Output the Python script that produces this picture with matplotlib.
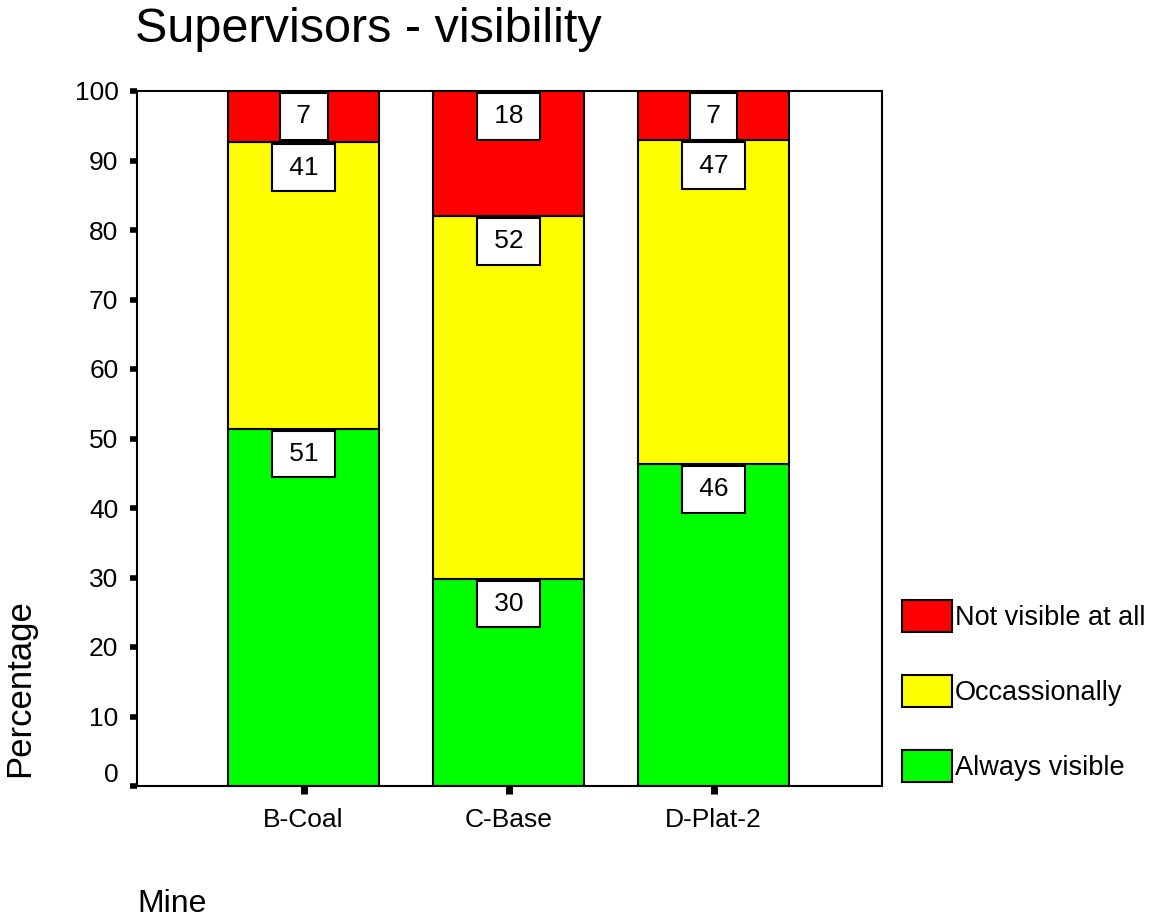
import matplotlib
matplotlib.use("Agg")
import matplotlib.pyplot as plt
from matplotlib.patches import Patch
import matplotlib.transforms as mtransforms

plt.rcParams['font.family'] = ['Liberation Sans', 'DejaVu Sans']

# data (percent of respondents per mine)
mines = ["B-Coal", "C-Base", "D-Plat-2"]
always_visible = [51.4, 29.8, 46.3]
occasionally = [41.2, 52.2, 46.6]
not_visible = [7.4, 18.0, 7.1]

series_names = ["Always visible", "Occassionally", "Not visible at all"]
series_colors = ["#00FF00", "#FFFF00", "#FF0000"]
yticks = [0, 10, 20, 30, 40, 50, 60, 70, 80, 90, 100]

fig = plt.figure(figsize=(11.49, 9.18), dpi=100)
ax = fig.add_axes([136.5 / 1149, 1 - 786 / 918, (882 - 136.5) / 1149, (786 - 91) / 918])

x = list(range(len(mines)))
bottoms = [0.0] * len(mines)
for vals, name, col in zip([always_visible, occasionally, not_visible], series_names, series_colors):
    ax.bar(x, vals, width=0.737, bottom=bottoms, color=col, edgecolor="black", linewidth=1.5, label=name)
    for xi, v, b in zip(x, vals, bottoms):
        ax.annotate(f"\u2009{int(v + 0.5)}\u2009", xy=(xi, b + v), xytext=(0, -9.5), textcoords="offset points",
                    ha="center", va="top", fontsize=19,
                    bbox=dict(boxstyle="square,pad=0.43", fc="white", ec="black", lw=1.5))
    bottoms = [b + v for b, v in zip(bottoms, vals)]

ax.set_xlim(-0.815, 2.822)
ax.set_ylim(0, 100)
ax.set_xticks(x)
ax.set_xticklabels(mines, fontsize=19)
ax.set_yticks(yticks)
ax.set_yticklabels([str(t) for t in yticks], fontsize=19)
ax.tick_params(axis="y", direction="out", length=5, width=4, pad=8)
ax.tick_params(axis="x", direction="out", length=6, width=5, pad=10)
for s in ax.spines.values():
    s.set_linewidth(1.5)

# SPSS nudges the "0" label up off the x axis
lab0 = ax.get_yticklabels()[0]
lab0.set_transform(lab0.get_transform() + mtransforms.ScaledTranslation(0, 10 / 72, fig.dpi_scale_trans))

fig.text(135 / 1149, 1 - 42 / 918, "Supervisors - visibility", fontsize=35, ha="left", va="baseline")
fig.text(36 / 1149, 1 - 688 / 918, "Percentage", fontsize=25, rotation=90, ha="right", va="center")
fig.text(137 / 1149, 1 - 912 / 918, "Mine", fontsize=23, ha="left", va="baseline")

handles = [Patch(facecolor=c, edgecolor="black", linewidth=1.5) for c in series_colors][::-1]
fig.legend(handles, series_names[::-1], loc="upper left", bbox_to_anchor=(902 / 1149, 1 - 600 / 918),
           frameon=False, fontsize=19.5, borderpad=0, borderaxespad=0, handlelength=1.85,
           handleheight=1.45, handletextpad=0.1, labelspacing=1.58)

fig.savefig("out.png", dpi=100)
